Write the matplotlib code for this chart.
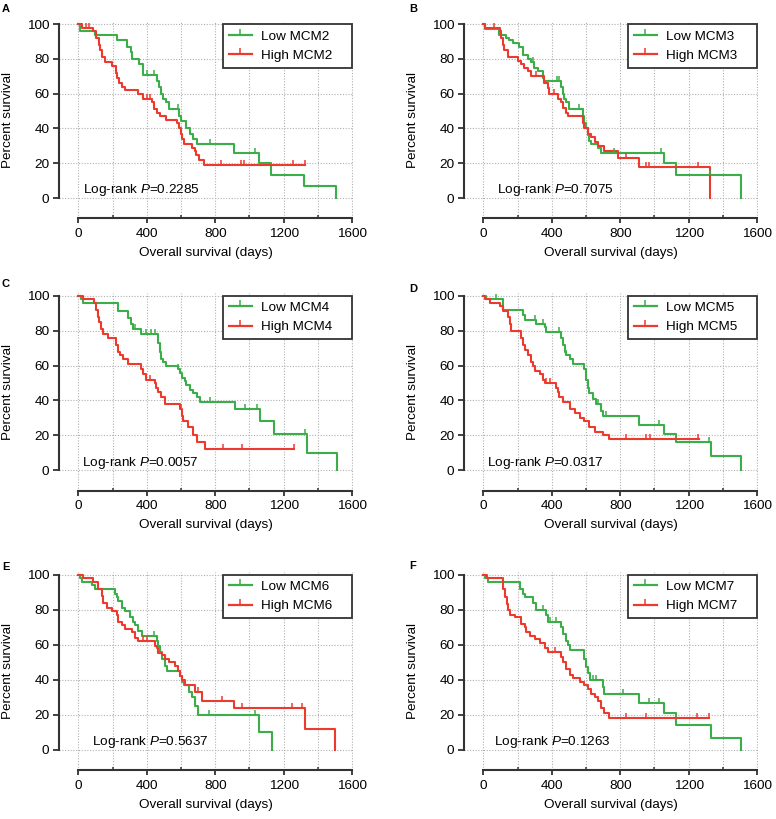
import numpy as np
import matplotlib
matplotlib.use("Agg")
import matplotlib.pyplot as plt
from matplotlib.lines import Line2D

plt.rcParams['font.family'] = ['Liberation Sans', 'DejaVu Sans']
plt.rcParams['mathtext.fontset'] = 'custom'
plt.rcParams['mathtext.rm'] = 'Liberation Sans'
plt.rcParams['mathtext.it'] = 'Liberation Sans:italic'

# ---- data (days, percent survival) ----
genes = ["MCM2", "MCM3", "MCM4", "MCM5", "MCM6", "MCM7"]
letters = ["A", "B", "C", "D", "E", "F"]
pvals = ["0.2285", "0.7075", "0.0057", "0.0317", "0.5637", "0.1263"]

# A - MCM2
a_low_t = [0, 8, 100, 225, 285, 305, 315, 355, 375, 460, 472, 482, 492, 510, 530, 588, 600, 628, 650, 670, 695, 910, 1058, 1128, 1320, 1508]
a_low_s = [100, 96, 94, 91, 87, 84, 80, 77, 71, 67, 64, 60, 57, 55, 51, 47, 44, 40, 37, 34, 31, 26, 20, 13, 7, 0]
a_low_c = [400, 440, 580, 770, 1035]
a_high_t = [0, 20, 85, 105, 118, 128, 138, 158, 195, 218, 228, 240, 255, 275, 350, 375, 428, 440, 462, 478, 510, 578, 588, 598, 608, 618, 665, 680, 690, 705, 735, 1323]
a_high_s = [100, 98, 96, 92, 88, 85, 81, 78, 76, 72, 69, 66, 64, 62, 60, 57, 55, 51, 49, 47, 45, 43, 40, 37, 34, 31, 29, 27, 25, 22, 19, 19]
a_high_c = [45, 60, 400, 420, 835, 950, 970, 1255, 1323]

# B - MCM3
b_low_t = [0, 10, 94, 133, 150, 172, 210, 230, 260, 279, 298, 318, 347, 357, 454, 464, 474, 484, 503, 581, 591, 601, 611, 620, 630, 669, 688, 1058, 1127, 1503]
b_low_s = [100, 97, 94, 92, 91, 89, 87, 82, 80, 78, 75, 73, 69, 67, 64, 60, 57, 55, 51, 47, 43, 40, 36, 33, 31, 29, 26, 20, 13, 0]
b_low_c = [290, 430, 444, 560, 766, 1039, 1322]
b_high_t = [0, 8, 95, 103, 113, 123, 142, 201, 220, 240, 259, 279, 357, 376, 386, 435, 454, 464, 483, 493, 581, 591, 611, 630, 650, 669, 708, 786, 912, 1322]
b_high_s = [100, 98, 96, 92, 88, 85, 81, 79, 77, 75, 73, 70, 66, 63, 60, 57, 55, 52, 49, 47, 43, 40, 37, 35, 32, 30, 27, 23, 18, 0]
b_high_c = [60, 308, 415, 834, 951, 970, 1253]

# C - MCM4
c_low_t = [0, 16, 25, 231, 290, 309, 319, 368, 466, 475, 485, 495, 515, 583, 593, 603, 622, 632, 652, 671, 691, 710, 916, 1063, 1141, 1337, 1513]
c_low_s = [100, 98, 96, 91, 87, 84, 81, 78, 73, 68, 64, 62, 60, 58, 56, 53, 51, 49, 46, 44, 42, 39, 35, 28, 21, 10, 0]
c_low_c = [330, 397, 427, 446, 583, 769, 975, 1043, 1327]
c_high_t = [0, 25, 94, 104, 114, 123, 133, 143, 172, 221, 231, 241, 260, 290, 368, 378, 397, 446, 456, 466, 485, 505, 593, 603, 613, 642, 671, 691, 740, 1258]
c_high_s = [100, 98, 96, 92, 88, 85, 81, 78, 76, 72, 68, 66, 64, 61, 58, 55, 52, 50, 47, 45, 42, 38, 35, 31, 28, 25, 20, 16, 12, 12]
c_high_c = [420, 600, 847, 955, 1258]

# D - MCM5
d_low_t = [0, 17, 115, 231, 241, 309, 358, 368, 455, 465, 475, 484, 504, 523, 591, 601, 611, 620, 640, 660, 689, 699, 912, 1058, 1127, 1331, 1506]
d_low_s = [100, 98, 92, 89, 86, 84, 82, 79, 76, 72, 68, 66, 64, 61, 58, 52, 47, 44, 41, 38, 34, 31, 26, 21, 16, 8, 0]
d_low_c = [76, 300, 348, 445, 484, 669, 718, 1029, 1321]
d_high_t = [0, 8, 37, 95, 115, 144, 154, 164, 222, 232, 241, 261, 281, 290, 300, 329, 348, 358, 426, 436, 445, 465, 504, 533, 562, 591, 620, 650, 698, 737, 1262]
d_high_s = [100, 98, 96, 94, 91, 88, 84, 80, 76, 72, 69, 66, 62, 60, 57, 55, 52, 50, 47, 45, 42, 39, 35, 33, 30, 28, 25, 22, 20, 18, 18]
d_high_c = [368, 387, 835, 951, 971, 1253]

# E - MCM6
e_low_t = [0, 10, 19, 78, 98, 215, 225, 234, 254, 273, 302, 322, 332, 351, 371, 459, 468, 478, 488, 507, 517, 595, 605, 615, 644, 663, 683, 702, 1054, 1132]
e_low_s = [100, 98, 96, 94, 92, 89, 87, 85, 81, 79, 76, 73, 71, 68, 65, 62, 59, 56, 52, 48, 45, 42, 39, 37, 33, 30, 25, 20, 10, 0]
e_low_c = [440, 644, 761, 1034]
e_high_t = [0, 29, 88, 117, 137, 146, 166, 195, 224, 234, 254, 273, 312, 332, 351, 449, 459, 468, 488, 507, 527, 566, 585, 595, 605, 624, 683, 722, 907, 1327, 1502]
e_high_s = [100, 98, 96, 92, 88, 84, 81, 79, 77, 73, 71, 69, 67, 64, 62, 59, 58, 55, 54, 52, 50, 48, 45, 42, 40, 37, 33, 28, 24, 12, 0]
e_high_c = [380, 400, 702, 722, 839, 956, 1249, 1307]

# F - MCM7
f_low_t = [0, 10, 29, 213, 233, 243, 291, 310, 368, 378, 456, 466, 485, 495, 504, 591, 601, 611, 621, 698, 708, 912, 1057, 1125, 1328, 1503]
f_low_s = [100, 98, 96, 92, 89, 87, 84, 80, 77, 73, 70, 66, 62, 60, 57, 52, 47, 44, 40, 36, 32, 27, 21, 14, 7, 0]
f_low_c = [350, 388, 427, 640, 660, 815, 970, 1028]
f_high_t = [0, 19, 116, 126, 136, 145, 155, 184, 223, 243, 252, 272, 301, 330, 359, 378, 456, 466, 485, 504, 524, 562, 591, 611, 630, 650, 669, 689, 708, 737, 1319]
f_high_s = [100, 98, 92, 87, 83, 80, 77, 76, 72, 70, 67, 65, 63, 61, 58, 56, 53, 50, 46, 43, 41, 39, 37, 35, 32, 30, 28, 24, 21, 18, 18]
f_high_c = [417, 834, 950, 1251, 1319]

curves = [
    (a_low_t, a_low_s, a_low_c, a_high_t, a_high_s, a_high_c),
    (b_low_t, b_low_s, b_low_c, b_high_t, b_high_s, b_high_c),
    (c_low_t, c_low_s, c_low_c, c_high_t, c_high_s, c_high_c),
    (d_low_t, d_low_s, d_low_c, d_high_t, d_high_s, d_high_c),
    (e_low_t, e_low_s, e_low_c, e_high_t, e_high_s, e_high_c),
    (f_low_t, f_low_s, f_low_c, f_high_t, f_high_s, f_high_c),
]

GREEN = '#3cae49'
RED = '#ec3a2e'
DARK = '#333333'
FS = 9.7

W, H = 776, 819
fig = plt.figure(figsize=(W / 100, H / 100), dpi=100)

# panel boxes in pixels: left, right, top, bottom
col_lr = [(59, 353), (464, 758)]
row_tb = [(21.5, 218), (293, 490.5), (572, 770)]
letter_xy = [(2, 9), (409, 9), (2, 284), (409, 289), (2, 567), (409, 566)]
ptext_x = [25, 82, 22, 22, 80, 64]


def surv_at(t, s, c):
    idx = np.searchsorted(t, c, side='right') - 1
    return np.asarray(s)[idx]


for i in range(6):
    r, col = divmod(i, 2)
    l, rr = col_lr[col]
    t, b = row_tb[r]
    ax = fig.add_axes([l / W, 1 - b / H, (rr - l) / W, (b - t) / H])
    low_t, low_s, low_c, high_t, high_s, high_c = curves[i]

    ax.step(low_t, low_s, where='post', color=GREEN, lw=1.5, zorder=3)
    ax.step(high_t, high_s, where='post', color=RED, lw=1.5, zorder=3)
    ax.plot(low_c, surv_at(low_t, low_s, low_c), ls='none', marker=2,
            ms=3.3, mew=1.1, color=GREEN, zorder=3)
    ax.plot(high_c, surv_at(high_t, high_s, high_c), ls='none', marker=2,
            ms=3.3, mew=1.1, color=RED, zorder=3)

    ax.set_xlim(-113, 1605)
    ax.set_ylim(-11.5, 101.5)
    for sp in ['top', 'right']:
        ax.spines[sp].set_visible(False)
    ax.spines['left'].set_bounds(0, 100)
    ax.spines['bottom'].set_bounds(0, 1600)
    for sp in ['left', 'bottom']:
        ax.spines[sp].set_linewidth(1.5)
        ax.spines[sp].set_color(DARK)

    ax.set_xticks([0, 400, 800, 1200, 1600])
    ax.set_xticks([200, 600, 1000, 1400], minor=True)
    ax.set_yticks([0, 20, 40, 60, 80, 100])
    ax.tick_params(axis='both', which='major', labelsize=FS, color=DARK,
                   width=1.3, direction='out')
    ax.tick_params(axis='y', length=4.5, pad=2.5)
    ax.tick_params(axis='x', length=3.5, pad=3.5)
    ax.tick_params(axis='x', which='minor', length=2.5, width=1.1,
                   color=DARK, direction='in')
    ax.grid(True, which='both', axis='x', ls=(0, (1, 1.5)), color='#b0b0b0', lw=0.8)
    ax.grid(True, which='major', axis='y', ls=(0, (1, 1.5)), color='#b0b0b0', lw=0.8)
    ax.set_axisbelow(True)

    ax.set_xlabel("Overall survival (days)", fontsize=FS, labelpad=5)
    ax.set_ylabel("Percent survival", fontsize=FS, labelpad=9)

    handles = [Line2D([0], [0], color=GREEN, lw=1.6, marker=2, ms=4, mew=1.1),
               Line2D([0], [0], color=RED, lw=1.6, marker=2, ms=4, mew=1.1)]
    leg = ax.legend(handles, ["Low " + genes[i], "High " + genes[i]],
                    loc='upper right', bbox_to_anchor=(845, 0, 755, 100),
                    bbox_transform=ax.transData, mode='expand', borderaxespad=0,
                    fontsize=FS, frameon=True, fancybox=False, framealpha=1,
                    handlelength=1.7, handletextpad=0.7, borderpad=0.45,
                    labelspacing=0.5, numpoints=1)
    leg.get_frame().set_edgecolor(DARK)
    leg.get_frame().set_linewidth(1.3)

    ax.text(ptext_x[i], 4.5, "Log-rank $P$=" + pvals[i], fontsize=FS,
            ha='left', va='center')

    lx, ly = letter_xy[i]
    fig.text(lx / W, 1 - ly / H, letters[i], fontsize=8, fontweight='bold',
             ha='left', va='center')

fig.savefig("out.png", dpi=100)
